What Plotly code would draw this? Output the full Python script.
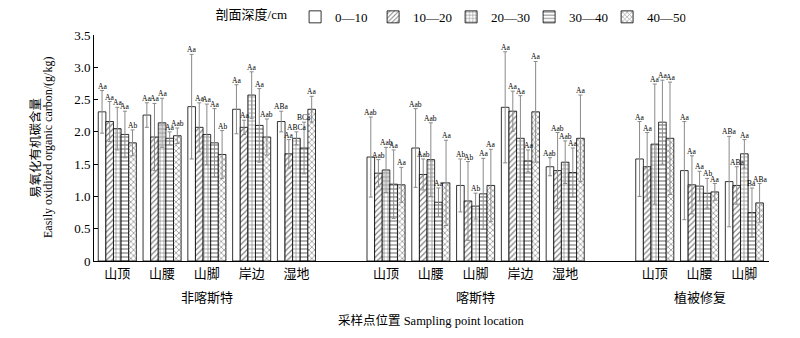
import plotly.graph_objects as go

depths = ["0—10", "10—20", "20—30", "30—40", "40—50"]
sites = ["山顶", "山腰", "山脚", "岸边", "湿地",
         "山顶", "山腰", "山脚", "岸边", "湿地",
         "山顶", "山腰", "山脚"]
site_group = [0, 0, 0, 0, 0, 1, 1, 1, 1, 1, 2, 2, 2]
group_names = ["非喀斯特", "喀斯特", "植被修复"]

# mean values per depth (rows) for each site (columns)
means = [
    [2.31, 2.26, 2.39, 2.35, 2.16, 1.61, 1.75, 1.17, 2.38, 1.46, 1.58, 1.40, 1.23],
    [2.16, 1.92, 2.07, 2.07, 1.66, 1.36, 1.34, 0.93, 2.32, 1.40, 1.46, 1.18, 1.17],
    [2.05, 2.14, 1.96, 2.57, 1.90, 1.41, 1.57, 0.85, 1.90, 1.53, 1.81, 1.16, 1.66],
    [1.96, 1.90, 1.83, 2.10, 1.75, 1.19, 0.91, 1.04, 1.55, 1.37, 2.15, 1.05, 0.75],
    [1.83, 1.94, 1.65, 1.92, 2.35, 1.18, 1.21, 1.17, 2.31, 1.90, 1.90, 1.07, 0.90],
]
errors = [
    [0.33, 0.19, 0.81, 0.38, 0.16, 0.62, 0.61, 0.41, 0.86, 0.14, 0.58, 0.76, 0.70],
    [0.31, 0.52, 0.38, 0.11, 0.22, 0.21, 0.24, 0.61, 0.31, 0.59, 0.53, 0.45, 0.29],
    [0.33, 0.38, 0.47, 0.36, 0.10, 0.35, 0.57, 0.20, 0.66, 0.33, 0.93, 0.23, 0.22],
    [0.36, 0.10, 0.53, 0.57, 0.40, 0.53, 0.22, 0.55, 0.17, 0.38, 0.65, 0.23, 0.38],
    [0.20, 0.12, 0.37, 0.28, 0.20, 0.27, 0.66, 0.56, 0.78, 0.67, 0.87, 0.13, 0.30],
]
letters = [
    ["Aa", "Aa", "Aa", "Aa", "ABa", "Aab", "Aab", "Ab", "Aa", "Aab", "Aa", "Aa", "ABa"],
    ["Aa", "Aa", "Aa", "Aa", "Aa", "Aab", "Aab", "Ab", "Aa", "Aab", "Aa", "Aa", "ABa"],
    ["Aa", "Aa", "Aa", "Aa", "ABCa", "Aab", "Aab", "Ab", "Aa", "Aab", "Aa", "Aa", "Aa"],
    ["Aa", "Aa", "Aa", "Aa", "BCa", "Aa", "Aa", "Aa", "Aa", "Aa", "Aa", "Ab", "Ba"],
    ["Ab", "Aab", "Ab", "Aab", "Aa", "Aa", "Aa", "Aa", "Aa", "Aa", "Aa", "Aa", "ABa"],
]
yticks = [0, 0.5, 1.0, 1.5, 2.0, 2.5, 3.0, 3.5]
yticktext = ["0", "0.5", "1.0", "1.5", "2.0", "2.5", "3.0", "3.5"]

shapes_pat = ["", "/", "+", "-", "x"]

FONT = "Liberation Serif, 'Times New Roman', 'Noto Sans CJK SC', serif"

# x positions: sites with a gap of one slot between groups
xpos = [i + g for i, g in enumerate(site_group)]

bargap = 0.15
n = len(depths)
bw = (1 - bargap) / n

fig = go.Figure()
for k, d in enumerate(depths):
    fig.add_trace(go.Bar(
        x=xpos, y=means[k], name=d,
        marker=dict(color="white", line=dict(color="black", width=0.8),
                    pattern=dict(shape=shapes_pat[k], fgcolor="black",
                                 bgcolor="white", size=4, solidity=0.3)),
        error_y=dict(type="data", array=errors[k], color="#8a8a8a",
                     thickness=1, width=2),
    ))

annotations = []
for k in range(n):
    off = -(1 - bargap) / 2 + (k + 0.5) * bw
    for j, x in enumerate(xpos):
        annotations.append(dict(
            x=x + off, y=means[k][j] + errors[k][j], text=letters[k][j],
            showarrow=False, yanchor="bottom", yshift=-2,
            font=dict(size=7.5, family=FONT, color="black")))

# group labels
for g, name in enumerate(group_names):
    xs = [xpos[i] for i in range(len(xpos)) if site_group[i] == g]
    annotations.append(dict(
        x=(min(xs) + max(xs)) / 2, y=0, xref="x", yref="paper",
        yshift=-36, text=name, showarrow=False, yanchor="middle",
        font=dict(size=13, family=FONT, color="black")))

annotations.append(dict(
    x=0.5, y=0, xref="paper", yref="paper", yshift=-59,
    text="采样点位置 Sampling point location", showarrow=False,
    yanchor="middle", font=dict(size=12.5, family=FONT, color="black")))
annotations.append(dict(
    x=0, y=0.5, xref="paper", yref="paper", xshift=-59,
    text="易氧化有机碳含量", textangle=-90, showarrow=False,
    xanchor="center", font=dict(size=12.5, family=FONT, color="black")))
annotations.append(dict(
    x=0, y=0.5, xref="paper", yref="paper", xshift=-46,
    text="Easily oxidized organic carbon/(g/kg)", textangle=-90, showarrow=False,
    xanchor="center", font=dict(size=12, family=FONT, color="black")))

fig.update_layout(
    width=800, height=338,
    margin=dict(l=94, r=31, t=35, b=77, autoexpand=False),
    paper_bgcolor="white", plot_bgcolor="white",
    barmode="group", bargap=bargap, bargroupgap=0,
    font=dict(family=FONT, size=13, color="black"),
    showlegend=True,
    legend=dict(orientation="h", xref="container", yref="container",
                x=0.267, y=0.95, yanchor="middle", xanchor="left",
                title=dict(text="剖面深度/cm", side="left",
                           font=dict(size=13, family=FONT)),
                font=dict(size=13, family=FONT),
                entrywidth=33, entrywidthmode="pixels",
                tracegroupgap=0),
    xaxis=dict(range=[-0.52, 14.55], tickvals=xpos, ticktext=sites,
               showline=True, linecolor="black", linewidth=1, ticks="",
               showgrid=False, zeroline=False, fixedrange=True,
               tickfont=dict(size=13, family=FONT)),
    yaxis=dict(range=[0, 3.5], tickvals=yticks, ticktext=yticktext,
               showline=True, linecolor="black", linewidth=1, ticks="inside",
               ticklen=4, tickcolor="black", showgrid=False, zeroline=False,
               tickfont=dict(size=13, family=FONT)),
    annotations=annotations,
)

fig.write_html("out.html")
